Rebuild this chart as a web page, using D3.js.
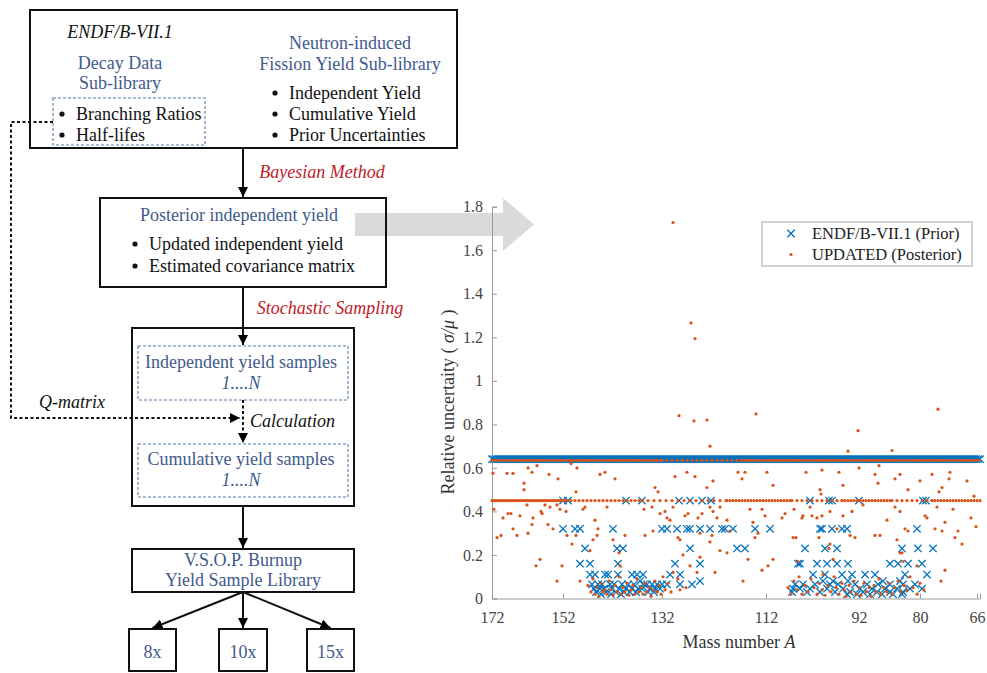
<!DOCTYPE html>
<html lang="en">
<head>
<meta charset="UTF-8">
<title>Fission yield uncertainty workflow</title>
<script src="https://d3js.org/d3.v7.min.js"></script>
<style>
  body { margin: 0; background: #fff; }
  svg { display: block; font-family: "Liberation Serif", "Times New Roman", serif; }
  .axis path, .axis line { stroke: #9a9a9a; }
  .axis text { fill: #444; font-size: 16px; font-family: "Liberation Serif", serif; }
</style>
</head>
<body>
<script>
// ---- chart data (x = nuclide index along the mass-number axis) ----
const xTickIdx = [0, 71, 170, 274, 367, 428, 485];
const xTickLabels = ["172", "152", "132", "112", "92", "80", "66"];
const yTicks = [0, 0.2, 0.4, 0.6, 0.8, 1, 1.2, 1.4, 1.6, 1.8];

// prior: dense band of nuclides at 0.64 given as [from, to, every] runs
const priorBandValue = 0.64;
const priorBandRuns = [[0, 488, 2]];
// prior: remaining nuclides [index, rel. uncertainty]
const priorPoints = [
  [71,0.45],[76,0.45],[134,0.45],[150,0.45],[187,0.45],[198,0.45],[210,0.45],[219,0.45],[318,0.45],[337,0.45],[340,0.45],[367,0.45],[431,0.45],[434,0.45],
  [71,0.32],[83,0.32],[88,0.32],[121,0.32],[170,0.32],[175,0.32],[185,0.32],[195,0.32],[198,0.32],[208,0.32],[218,0.32],[230,0.32],[233,0.32],[241,0.32],[263,0.32],[278,0.32],[328,0.32],[330,0.32],[340,0.32],[350,0.32],[355,0.32],[425,0.32],
  [93,0.23],[125,0.23],[131,0.23],[198,0.23],[245,0.23],[253,0.23],[313,0.23],[333,0.23],[345,0.23],[410,0.23],[426,0.23],[441,0.23],
  [88,0.16],[98,0.16],[126,0.16],[183,0.16],[208,0.16],[306,0.16],[308,0.16],[325,0.16],[335,0.16],[345,0.16],[356,0.16],[398,0.16],[406,0.16],[416,0.16],[430,0.16],
  [98,0.11],[103,0.11],[113,0.11],[116,0.11],[126,0.11],[140,0.11],[145,0.11],[151,0.11],[178,0.11],[188,0.11],
  [321,0.11],[333,0.11],[350,0.11],[360,0.11],[373,0.11],[383,0.11],[413,0.11],[435,0.11],
  [148,0.08],[208,0.08],[331,0.08],[341,0.08],[356,0.08],[391,0.08],[408,0.08],
  [100,0.065],[106,0.065],[110,0.065],[118,0.065],[122,0.065],[130,0.065],[136,0.065],[142,0.065],[152,0.065],[155,0.065],[160,0.065],[165,0.065],[170,0.065],[175,0.065],[188,0.065],[200,0.065],
  [303,0.065],[311,0.065],[323,0.065],[338,0.065],[346,0.065],[363,0.065],[375,0.065],[386,0.065],[398,0.065],[411,0.065],[423,0.065],
  [102,0.045],[108,0.045],[112,0.045],[120,0.045],[127,0.045],[134,0.045],[140,0.045],[146,0.045],[150,0.045],[158,0.045],[163,0.045],[168,0.045],
  [301,0.045],[308,0.045],[318,0.045],[335,0.045],[351,0.045],[368,0.045],[380,0.045],[393,0.045],[405,0.045],[418,0.045],[430,0.045],
  [104,0.03],[114,0.03],[124,0.03],[132,0.03],[138,0.03],[144,0.03],[156,0.03],[162,0.03],
  [300,0.03],[315,0.03],[328,0.03],[343,0.03],[358,0.03],[371,0.03],[385,0.03],[398,0.03],[411,0.03],
  [109,0.02],[119,0.02],[129,0.02],[355,0.02],[365,0.02],[378,0.02],[390,0.02],[401,0.02],[410,0.02]
];

// posterior: two dotted bands, then scattered nuclides
const postHighValue = 0.635;
const postHighRuns = [[0, 170, 3], [170, 250, 5], [250, 488, 3]];
const postMidValue = 0.45;
const postMidRuns = [[0, 75, 2], [75, 150, 4], [150, 235, 6], [235, 300, 3], [300, 350, 5], [350, 400, 3], [400, 440, 5], [440, 488, 3]];
const postPoints = [
  [181,1.727],[199,1.266],[203,1.194],[187,0.84],[202,0.816],[215,0.82],[264,0.848],[366,0.771],[446,0.87],[218,0.70],[356,0.677],[400,0.68],
  [1,0.575],[15,0.575],[21,0.575],[36,0.60],[40,0.58],[45,0.61],[57,0.57],[66,0.55],[79,0.62],[85,0.60],[108,0.57],[113,0.58],[123,0.55],[32,0.53],[32,0.50],[84,0.49],
  [2,0.41],[11,0.37],[16,0.39],[19,0.39],[28,0.38],[21,0.32],[5,0.28],[9,0.29],[25,0.29],[36,0.30],[40,0.34],[41,0.37],[35,0.43],[49,0.40],[50,0.39],[53,0.43],[58,0.42],
  [56,0.34],[61,0.32],[65,0.43],[68,0.41],[74,0.40],[75,0.29],[80,0.25],[84,0.29],[91,0.41],[93,0.42],[101,0.27],[103,0.36],[105,0.29],[106,0.32],[115,0.42],[121,0.27],
  [133,0.29],[48,0.18],[44,0.15],[70,0.15],[65,0.08],[88,0.08],[98,0.22],[127,0.21],[128,0.15],
  [183,0.56],[195,0.58],[203,0.56],[163,0.51],[166,0.49],[221,0.54],[215,0.51],[246,0.58],[250,0.55],[253,0.58],[281,0.52],[275,0.58],
  [152,0.41],[160,0.42],[168,0.39],[173,0.40],[181,0.42],[175,0.37],[178,0.36],[193,0.38],[196,0.39],[206,0.37],[210,0.39],[221,0.40],[218,0.42],[228,0.42],[225,0.37],
  [235,0.36],[261,0.35],[270,0.41],[258,0.41],[273,0.38],[290,0.37],[293,0.39],[153,0.29],[161,0.31],[186,0.28],[188,0.27],[208,0.30],[218,0.26],[220,0.29],[238,0.31],
  [266,0.30],[263,0.28],[228,0.22],[235,0.21],[191,0.20],[208,0.19],[198,0.15],[256,0.18],[270,0.13],[281,0.18],[276,0.15],[223,0.12],[251,0.08],[181,0.12],[188,0.04],[301,0.28],
  [314,0.58],[330,0.59],[347,0.58],[351,0.52],[328,0.50],[329,0.48],[367,0.60],[383,0.57],[386,0.53],[387,0.61],[403,0.55],[408,0.57],[416,0.50],[428,0.54],[440,0.57],[450,0.51],[458,0.58],
  [302,0.41],[310,0.37],[311,0.38],[318,0.42],[320,0.38],[325,0.37],[330,0.38],[338,0.40],[351,0.38],[360,0.40],[371,0.43],[383,0.29],[388,0.29],[395,0.36],[403,0.42],[408,0.40],
  [413,0.32],[433,0.38],[435,0.37],[443,0.32],[445,0.42],[453,0.35],[461,0.41],[304,0.28],[327,0.28],[358,0.29],[363,0.28],[405,0.27],[416,0.31],[408,0.21],[410,0.21],[450,0.31],
  [345,0.32],[338,0.25],[337,0.23],[341,0.18],[306,0.17],[331,0.11],[453,0.13],[425,0.15],[411,0.17],[449,0.08],
  [482,0.47],[479,0.37],[470,0.25],[466,0.31],[475,0.54],[484,0.33],[457,0.55],[447,0.49],[463,0.28],
  [96,0.06],[99,0.03],[101,0.09],[103,0.02],[105,0.05],[107,0.01],[109,0.07],[111,0.03],[113,0.04],[115,0.02],[117,0.08],[119,0.04],[121,0.015],[123,0.06],[125,0.03],[127,0.1],
  [129,0.02],[131,0.05],[133,0.03],[135,0.07],[137,0.015],[139,0.04],[141,0.06],[143,0.02],[145,0.09],[147,0.03],[149,0.05],[151,0.02],[153,0.07],[155,0.03],[157,0.05],[159,0.01],
  [161,0.04],[163,0.08],[165,0.03],[167,0.06],[169,0.02],[171,0.1],[173,0.04],[176,0.07],[179,0.03],[186,0.09],[194,0.05],[205,0.12],
  [296,0.05],[299,0.02],[302,0.08],[305,0.04],[307,0.1],[310,0.02],[313,0.06],[316,0.03],[319,0.09],[322,0.05],[325,0.02],[327,0.07],[330,0.04],[333,0.015],[336,0.06],[339,0.03],
  [342,0.1],[344,0.05],[347,0.02],[350,0.07],[352,0.04],[354,0.01],[357,0.06],[359,0.03],[362,0.08],[364,0.02],[367,0.05],[369,0.015],[372,0.07],[374,0.03],[377,0.05],[379,0.01],
  [382,0.06],[384,0.03],[387,0.09],[389,0.02],[392,0.05],[395,0.03],[397,0.07],[400,0.02],[403,0.05],[406,0.08],[409,0.03],[412,0.06],[415,0.04],[418,0.1],[421,0.05],[425,0.02],[428,0.07],[432,0.04]
];

const legendLabels = ["ENDF/B-VII.1 (Prior)", "UPDATED (Posterior)"];

// ---- flowchart text ----
const decayLines = ["Decay Data", "Sub-library"];
const decayBullets = ["Branching Ratios", "Half-lifes"];
const fissionLines = ["Neutron-induced", "Fission Yield Sub-library"];
const fissionBullets = ["Independent Yield", "Cumulative Yield", "Prior Uncertainties"];
const posteriorBullets = ["Updated independent yield", "Estimated covariance matrix"];
const outputBoxes = [{ label: "8x", l: 129, r: 176 }, { label: "10x", l: 219, r: 267 }, { label: "15x", l: 307, r: 354 }];

const BLUE = "#3f5b8c", RED = "#c0202a";
const width = 987, height = 673;

const svg = d3.select("body").append("svg")
  .attr("width", width)
  .attr("height", height);

const defs = svg.append("defs");
defs.append("marker")
  .attr("id", "head")
  .attr("viewBox", "0 0 10 10")
  .attr("refX", 10).attr("refY", 5)
  .attr("markerWidth", 5).attr("markerHeight", 5)
  .attr("markerUnits", "strokeWidth")
  .attr("orient", "auto")
  .append("path").attr("d", "M0,0 L10,5 L0,10 Z").attr("fill", "#000");

function txt(x, y, s, opt = {}) {
  return svg.append("text")
    .attr("x", x).attr("y", y)
    .attr("text-anchor", opt.anchor || "middle")
    .attr("dominant-baseline", "central")
    .attr("font-size", opt.size || 18)
    .attr("font-style", opt.italic ? "italic" : null)
    .attr("fill", opt.color || "#111")
    .text(s);
}
function box(x0, y0, x1, y1, dashed) {
  svg.append("rect")
    .attr("x", x0).attr("y", y0)
    .attr("width", x1 - x0).attr("height", y1 - y0)
    .attr("fill", "none")
    .attr("stroke", dashed ? "#8ea6c6" : "#111")
    .attr("stroke-width", dashed ? 1.6 : 2)
    .attr("stroke-dasharray", dashed ? "3,2" : null);
}
function arrow(x0, y0, x1, y1, dashed) {
  svg.append("line")
    .attr("x1", x0).attr("y1", y0).attr("x2", x1).attr("y2", y1)
    .attr("stroke", "#111").attr("stroke-width", 2)
    .attr("stroke-dasharray", dashed ? "3,2.5" : null)
    .attr("marker-end", "url(#head)");
}
function bullets(x, y0, step, items) {
  items.forEach((s, i) => {
    svg.append("circle").attr("cx", x).attr("cy", y0 + i * step).attr("r", 2.6).attr("fill", "#111");
    txt(x + 14, y0 + i * step, s, { anchor: "start" });
  });
}

// ---- big grey arrow linking the two panels ----
svg.append("path")
  .attr("d", "M355,213 L503,213 L503,198 L534,224.5 L503,251 L503,236 L355,236 Z")
  .attr("fill", "#dadada");

// ---- flowchart ----
box(30, 10, 457, 148);
txt(120, 32, "ENDF/B-VII.1", { italic: true });
decayLines.forEach((s, i) => txt(120, 63 + i * 20, s, { color: BLUE }));
box(53, 98, 205, 145, true);
bullets(62, 114, 21, decayBullets);
fissionLines.forEach((s, i) => txt(350, 43 + i * 21, s, { color: BLUE }));
bullets(275, 93, 21, fissionBullets);

arrow(243, 148, 243, 197);
txt(322, 172, "Bayesian Method", { italic: true, color: RED });

box(100, 198, 386, 287);
txt(239, 215, "Posterior independent yield", { color: BLUE });
bullets(135, 244, 22, posteriorBullets);

arrow(243, 287, 243, 345);
txt(330, 308, "Stochastic Sampling", { italic: true, color: RED });

box(132, 328, 354, 506);
box(138, 346, 348, 400, true);
txt(241, 362, "Independent yield samples", { color: BLUE });
txt(241, 383, "1....N", { italic: true, color: BLUE });
box(138, 444, 348, 497, true);
txt(241, 459, "Cumulative yield samples", { color: BLUE });
txt(241, 480, "1....N", { italic: true, color: BLUE });
arrow(243, 400, 243, 443, true);
txt(250, 421, "Calculation", { italic: true, anchor: "start" });

// Q-matrix dashed feed from the decay data box
svg.append("path")
  .attr("d", "M53,122 H11 V418 H240")
  .attr("fill", "none").attr("stroke", "#111").attr("stroke-width", 2)
  .attr("stroke-dasharray", "3,2.5")
  .attr("marker-end", "url(#head)");
txt(72, 402, "Q-matrix", { italic: true });

arrow(243, 506, 243, 548);
box(132, 549, 354, 592);
txt(243, 560, "V.S.O.P. Burnup", { color: BLUE });
txt(243, 580, "Yield Sample Library", { color: BLUE });

outputBoxes.forEach(b => {
  arrow(243, 592, (b.l + b.r) / 2, 628);
  box(b.l, 629, b.r, 671);
  txt((b.l + b.r) / 2, 652, b.label, { color: BLUE });
});

// ---- scatter chart ----
const x = d3.scaleLinear().domain([0, 488]).range([492, 980]);
const y = d3.scaleLinear().domain([0, 1.8]).range([598.5, 206.7]);

const expand = (runs, v) => runs.flatMap(([a, b, s]) => d3.range(a, b + 1, s).map(i => [i, v]));
const priorAll = expand(priorBandRuns, priorBandValue).concat(priorPoints);
const postAll = expand(postHighRuns, postHighValue).concat(expand(postMidRuns, postMidValue), postPoints);

svg.append("g").attr("class", "axis")
  .attr("transform", `translate(0,${y(0)})`)
  .call(d3.axisBottom(x).tickValues(xTickIdx).tickFormat((d, i) => xTickLabels[i]).tickSize(-5).tickPadding(13));
svg.append("g").attr("class", "axis")
  .attr("transform", `translate(${x(0)},0)`)
  .call(d3.axisLeft(y).tickValues(yTicks).tickFormat(d => String(d)).tickSize(-5).tickPadding(9));

const xMark = "M-3.7,-3.7L3.7,3.7M-3.7,3.7L3.7,-3.7";
svg.append("g").selectAll("path")
  .data(priorAll).join("path")
  .attr("d", xMark)
  .attr("transform", d => `translate(${x(d[0])},${y(d[1])})`)
  .attr("fill", "none").attr("stroke", "#0072BD").attr("stroke-width", 1.3);

svg.append("g").selectAll("circle")
  .data(postAll).join("circle")
  .attr("cx", d => x(d[0])).attr("cy", d => y(d[1]))
  .attr("r", 1.6).attr("fill", "#D95319");

// axis titles
const yt = svg.append("text")
  .attr("transform", "translate(448,402) rotate(-90)")
  .attr("text-anchor", "middle").attr("dominant-baseline", "central")
  .attr("font-size", 18).attr("fill", "#333");
yt.append("tspan").text("Relative uncertaity ( ");
yt.append("tspan").attr("font-style", "italic").text("σ/μ");
yt.append("tspan").text(" )");

const xt = svg.append("text")
  .attr("x", 739).attr("y", 642)
  .attr("text-anchor", "middle").attr("dominant-baseline", "central")
  .attr("font-size", 18).attr("fill", "#333");
xt.append("tspan").text("Mass number  ");
xt.append("tspan").attr("font-style", "italic").text("A");

// legend
const lg = svg.append("g").attr("transform", "translate(762,222)");
lg.append("rect").attr("width", 210).attr("height", 44)
  .attr("fill", "#fff").attr("stroke", "#a8a8a8").attr("stroke-width", 1);
lg.append("path").attr("d", xMark).attr("transform", "translate(29,11.5)")
  .attr("fill", "none").attr("stroke", "#0072BD").attr("stroke-width", 1.3);
lg.append("circle").attr("cx", 29).attr("cy", 32.5).attr("r", 1.6).attr("fill", "#D95319");
legendLabels.forEach((s, i) => {
  lg.append("text").attr("x", 50).attr("y", 11.5 + i * 21)
    .attr("dominant-baseline", "central").attr("font-size", 16.5).attr("fill", "#222")
    .text(s);
});
</script>
</body>
</html>
